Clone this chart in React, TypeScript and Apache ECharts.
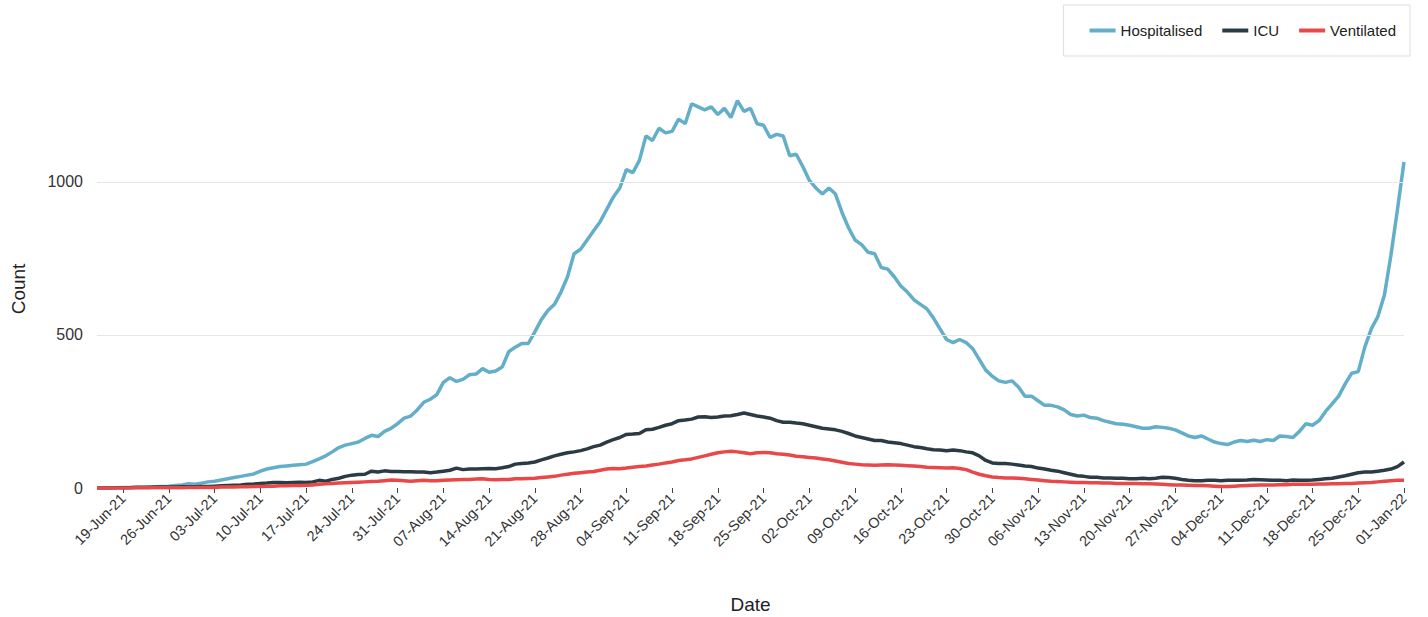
import React, { useEffect, useRef } from "react";
import * as echarts from "echarts";

const START = Date.UTC(2021, 5, 15);
const MONTHS = ["Jan","Feb","Mar","Apr","May","Jun","Jul","Aug","Sep","Oct","Nov","Dec"];
const N_DAYS = 201;
const dates: string[] = Array.from({ length: N_DAYS }, (_, i) => {
  const d = new Date(START + i * 86400000);
  const dd = String(d.getUTCDate()).padStart(2, "0");
  return `${dd}-${MONTHS[d.getUTCMonth()]}-${String(d.getUTCFullYear()).slice(2)}`;
});
const FIRST_LABEL = 4;

const hospitalised = [
  0,0,1,1,
  2,2,3,3,4,4,5, 6,8,10,14,12,16,20, 22,26,30,34,38,42,46, 55,62,66,70,72,74,76,
  78,86,95,105,118,132,140, 145,150,162,172,168,185,195, 210,228,235,255,280,290,305,
  345,360,348,355,370,372,390, 378,382,395,445,460,472,472, 510,550,580,600,640,690,765,
  780,810,840,870,910,950,980, 1040,1030,1070,1150,1135,1175,1160, 1165,1205,1190,1255,1245,1235,1245,
  1220,1240,1210,1265,1230,1240,1190, 1185,1145,1155,1150,1085,1090,1050, 1005,980,960,980,960,900,850,
  810,795,770,765,720,715,690, 660,640,615,600,585,555,520, 485,475,485,475,455,420,385,
  365,350,345,350,330,300,300, 285,270,270,265,255,240,235, 238,230,228,220,215,210,208,
  205,200,195,195,200,198,195, 190,180,170,165,170,160,150, 145,142,150,155,152,156,152,
  158,155,170,168,165,185,210, 205,220,250,275,300,340,375, 380,460,520,560,630,760,910,
  1065,
];
const icu = [
  0,0,0,1,
  1,1,2,2,2,3,3, 3,3,4,4,4,5,5, 6,7,8,9,10,12,13, 15,16,18,18,17,18,19,
  18,20,25,22,28,32,38, 42,44,45,55,52,56,54, 54,53,53,52,52,50,52,
  55,58,65,60,62,62,63, 64,63,66,70,78,80,82, 85,92,98,105,110,115,118,
  122,128,135,140,150,158,165, 175,176,178,190,192,198,205, 210,220,222,225,232,233,230,
  232,235,236,240,245,240,235, 232,228,220,215,215,212,210, 205,200,195,193,190,185,178,
  170,165,160,155,155,150,148, 145,140,135,132,128,125,124, 122,124,122,118,115,105,90,
  82,80,80,78,75,72,70, 65,62,58,55,50,45,40, 38,35,35,33,33,32,32,
  30,30,32,30,32,35,34, 32,28,25,24,24,25,25, 24,25,25,25,26,28,27,
  26,25,25,24,26,25,25, 26,28,30,32,36,40,45, 50,52,52,55,58,62,70,
  85,
];
const ventilated = [
  0,0,0,0,
  0,0,1,1,1,1,1, 1,1,1,2,2,2,2, 2,3,3,3,4,4,5, 5,6,6,7,7,8,8,
  9,10,12,14,15,16,17, 18,19,20,21,22,24,26, 25,24,22,24,25,24,24,
  25,26,27,28,28,29,30, 28,27,28,28,30,30,31, 32,34,36,38,42,45,48,
  50,52,54,58,62,64,63, 65,68,70,72,75,78,82, 85,90,92,95,100,105,110,
  115,118,120,118,115,112,115, 116,115,112,110,108,104,102, 100,98,95,92,88,84,80,
  78,76,75,74,75,76,75, 74,73,72,70,68,67,66, 65,66,64,60,52,45,40,
  36,34,33,33,32,30,28, 26,24,22,21,20,19,18, 18,17,17,16,16,15,15,
  15,15,14,14,13,12,11, 10,10,9,8,8,7,6, 5,5,6,7,8,9,10,
  10,10,11,11,12,12,12, 12,13,13,14,14,15,15, 16,17,18,20,22,24,25,
  25,
];
const gridValues = [500, 1000];

export default function App() {
  const ref = useRef<HTMLDivElement>(null);
  useEffect(() => {
    document.body.style.margin = "0";
    const chart = echarts.init(ref.current!, undefined, { renderer: "svg" });
    const font = "Liberation Sans, Arial, sans-serif";
    const mk = (name: string, data: number[], color: string, withGrid = false) => ({
      name, type: "line", data, showSymbol: false, symbol: "none",
      lineStyle: { color, width: 3.5 }, itemStyle: { color },
      markLine: withGrid ? {
        silent: true, symbol: "none", label: { show: false },
        lineStyle: { color: "#e6e6e6", width: 1, type: "solid" },
        data: gridValues.map((v) => ({ yAxis: v })),
      } : undefined,
    });
    chart.setOption({
      animation: false,
      textStyle: { fontFamily: font },
      grid: { left: 97, right: 24, top: 90, bottom: 129, containLabel: false, outerBoundsMode: "none" },
      legend: {
        right: 18, top: 5, orient: "horizontal",
        padding: [18, 14, 18, 26], borderColor: "#dddddd", borderWidth: 1,
        itemWidth: 26, itemHeight: 4, icon: "rect", itemGap: 20,
        textStyle: { fontSize: 15, color: "#222", fontFamily: font },
        data: ["Hospitalised", "ICU", "Ventilated"],
      },
      xAxis: {
        type: "category", data: dates, boundaryGap: false,
        name: "Date", nameLocation: "middle", nameGap: 107,
        nameTextStyle: { fontSize: 19, color: "#222" },
        axisLine: { show: false },
        axisTick: { show: true, interval: (i: number) => (i - FIRST_LABEL) % 7 === 0 && i >= FIRST_LABEL, length: 5, lineStyle: { color: "#444" } },
        axisLabel: {
          interval: (i: number) => (i - FIRST_LABEL) % 7 === 0 && i >= FIRST_LABEL,
          rotate: 45, fontSize: 14.5, color: "#333", margin: 8,
        },
        splitLine: { show: false },
      },
      yAxis: {
        type: "value", min: 0, max: 1300, interval: 500,
        name: "Count", nameLocation: "middle", nameGap: 69,
        nameTextStyle: { fontSize: 19, color: "#222" },
        axisLine: { show: false }, axisTick: { show: false },
        axisLabel: { fontSize: 16, color: "#333", margin: 14, showMaxLabel: false, formatter: (v: number) => (v % 500 === 0 ? String(v) : "") },
        splitLine: { show: false },
      },
      series: [
        mk("Hospitalised", hospitalised, "#63aec8", true),
        mk("ICU", icu, "#2b3b43"),
        mk("Ventilated", ventilated, "#e84848"),
      ],
    });
    return () => chart.dispose();
  }, []);
  return <div ref={ref} style={{ width: 1428, height: 617 }} />;
}
